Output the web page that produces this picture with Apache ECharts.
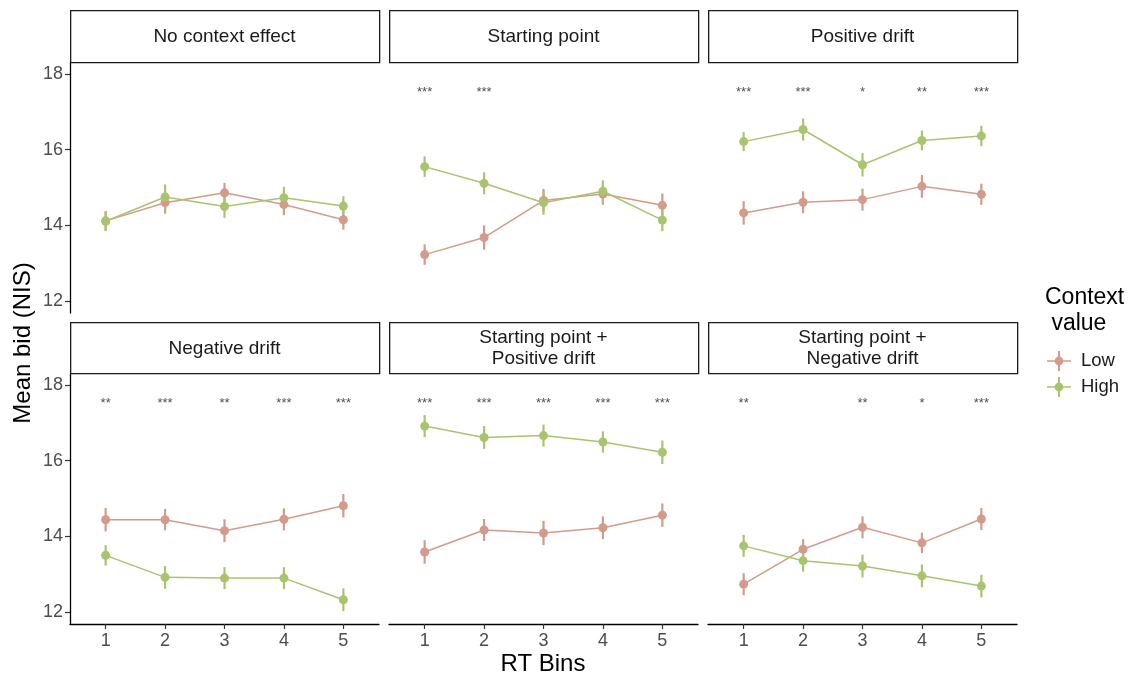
<!DOCTYPE html>
<html>
<head>
<meta charset="utf-8">
<script src="https://cdn.jsdelivr.net/npm/echarts@6/dist/echarts.min.js"></script>
<style>html,body{margin:0;padding:0;background:#fff}#c{width:1134px;height:676px}</style>
</head>
<body>
<div id="c"></div>
<script>
// ---------- DATA ----------
const bins = [1, 2, 3, 4, 5];
const xTicks = [1, 2, 3, 4, 5];
const yTicks = [12, 14, 16, 18];
const panelTitles = [
  'No context effect', 'Starting point', 'Positive drift',
  'Negative drift', 'Starting point +\nPositive drift', 'Starting point +\nNegative drift'
];
const seriesNames = ['Low', 'High'];

const lowMeans = [
  [14.12, 14.60, 14.86, 14.55, 14.15],
  [13.23, 13.68, 14.66, 14.83, 14.53],
  [14.33, 14.61, 14.68, 15.03, 14.82],
  [14.44, 14.44, 14.15, 14.45, 14.81],
  [13.59, 14.17, 14.09, 14.23, 14.56],
  [12.74, 13.66, 14.24, 13.83, 14.46]
];
const lowSE = [
  [0.26, 0.29, 0.26, 0.28, 0.26],
  [0.27, 0.32, 0.30, 0.28, 0.31],
  [0.31, 0.29, 0.29, 0.30, 0.28],
  [0.31, 0.28, 0.30, 0.29, 0.31],
  [0.31, 0.29, 0.32, 0.30, 0.31],
  [0.29, 0.27, 0.29, 0.27, 0.29]
];
const highMeans = [
  [14.11, 14.75, 14.50, 14.73, 14.51],
  [15.55, 15.11, 14.60, 14.90, 14.14],
  [16.21, 16.53, 15.60, 16.24, 16.36],
  [13.50, 12.92, 12.90, 12.90, 12.33],
  [16.91, 16.61, 16.66, 16.49, 16.22],
  [13.75, 13.36, 13.22, 12.96, 12.69]
];
const highSE = [
  [0.26, 0.33, 0.30, 0.29, 0.26],
  [0.27, 0.29, 0.32, 0.29, 0.29],
  [0.25, 0.29, 0.31, 0.26, 0.27],
  [0.27, 0.30, 0.29, 0.29, 0.30],
  [0.29, 0.30, 0.29, 0.28, 0.31],
  [0.29, 0.29, 0.30, 0.30, 0.30]
];
const stars = [
  ['', '', '', '', ''],
  ['***', '***', '', '', ''],
  ['***', '***', '*', '**', '***'],
  ['**', '***', '**', '***', '***'],
  ['***', '***', '***', '***', '***'],
  ['**', '', '**', '*', '***']
];
const starLevel = 17.5;

// ---------- STYLE / LAYOUT ----------
const FONT = '"Liberation Sans", Arial, Helvetica, sans-serif';
const colors = { Low: '#D29B8C', High: '#AAC36E' };
const colLeft = [70, 389, 708];
const colW = 309;
const rowTop = [62, 373];
const rowH = 251;
const stripTop = [10, 322];
const stripH = [52, 51];
const yMin = 11.69, yMax = 18.31;
const xMin = 0.4, xMax = 5.6;

const grids = [], xAxes = [], yAxes = [], series = [], graphics = [];

for (let p = 0; p < 6; p++) {
  const r = Math.floor(p / 3), c = p % 3;
  grids.push({ left: colLeft[c], top: rowTop[r], width: colW, height: rowH, outerBoundsMode: 'none', containLabel: false });
  const bottomRow = r === 1, leftCol = c === 0;
  xAxes.push({
    type: 'value', gridIndex: p, min: xMin, max: xMax,
    splitLine: { show: false },
    axisLine: { show: bottomRow, onZero: false, lineStyle: { color: '#000', width: 1.3 } },
    axisTick: { show: bottomRow, customValues: xTicks, length: 5, lineStyle: { color: '#333', width: 1.2 } },
    axisLabel: { show: bottomRow, customValues: xTicks, margin: 8, fontSize: 18, color: '#4D4D4D', fontFamily: FONT }
  });
  yAxes.push({
    type: 'value', gridIndex: p, min: yMin, max: yMax,
    splitLine: { show: false },
    axisLine: { show: leftCol, onZero: false, lineStyle: { color: '#000', width: 1.3 } },
    axisTick: { show: leftCol, customValues: yTicks, length: 5, lineStyle: { color: '#333', width: 1.2 } },
    axisLabel: { show: leftCol, customValues: yTicks, margin: 7, fontSize: 18, color: '#4D4D4D', fontFamily: FONT }
  });

  // strip
  graphics.push({
    type: 'rect', left: colLeft[c], top: stripTop[r],
    shape: { width: colW, height: stripH[r] },
    style: { fill: '#fff', stroke: '#1A1A1A', lineWidth: 1.3 }
  });
  graphics.push({
    type: 'text', x: colLeft[c] + colW / 2, y: stripTop[r] + stripH[r] / 2 + 1,
    style: { text: panelTitles[p], fontSize: 19, lineHeight: 21, fontFamily: FONT, fill: '#1A1A1A', align: 'center', verticalAlign: 'middle' }
  });

  const groups = [
    { name: 'Low', means: lowMeans[p], se: lowSE[p] },
    { name: 'High', means: highMeans[p], se: highSE[p] }
  ];
  groups.forEach(g => {
    const col = colors[g.name];
    series.push({
      type: 'custom', xAxisIndex: p, yAxisIndex: p, silent: true,
      data: bins.map((b, i) => [b, g.means[i] - g.se[i], g.means[i] + g.se[i]]),
      encode: { x: 0, y: [1, 2] },
      renderItem: (params, api) => {
        const a = api.coord([api.value(0), api.value(1)]);
        const b = api.coord([api.value(0), api.value(2)]);
        return { type: 'line', shape: { x1: a[0], y1: a[1], x2: b[0], y2: b[1] }, style: { stroke: col, lineWidth: 2.2 } };
      },
      z: 3
    });
    series.push({
      name: g.name, type: 'line', xAxisIndex: p, yAxisIndex: p,
      data: bins.map((b, i) => [b, g.means[i]]),
      symbol: 'circle', symbolSize: 9, showSymbol: true,
      lineStyle: { color: col, width: 1.5 },
      itemStyle: { color: col },
      z: 3, silent: true
    });
  });

  series.push({
    type: 'scatter', xAxisIndex: p, yAxisIndex: p, silent: true,
    symbolSize: 0,
    data: bins.map((b, i) => [b, starLevel, stars[p][i]]).filter(d => d[2] !== ''),
    label: { show: true, position: 'inside', formatter: q => q.data[2], fontSize: 13, fontFamily: FONT, color: '#222' },
    z: 4
  });
}

// axis titles + legend title
graphics.push({
  type: 'text', x: 23, y: 343, rotation: Math.PI / 2,
  style: { text: 'Mean bid (NIS)', fontSize: 24, fontFamily: FONT, fill: '#000', align: 'center', verticalAlign: 'middle' }
});
graphics.push({
  type: 'text', x: 543, y: 664,
  style: { text: 'RT Bins', fontSize: 24, fontFamily: FONT, fill: '#000', align: 'center', verticalAlign: 'middle' }
});
graphics.push({
  type: 'text', x: 1045, y: 285,
  style: { text: 'Context\n value', fontSize: 23, lineHeight: 26, fontFamily: FONT, fill: '#000', align: 'left', verticalAlign: 'top' }
});

const legendIcon = 'path://M0,9.2 L24,9.2 L24,10.8 L0,10.8 Z M11,0 L13,0 L13,20 L11,20 Z M7.6,10 A4.4,4.4 0 1 1 16.4,10 A4.4,4.4 0 1 1 7.6,10 Z';

const option = {
  animation: false,
  backgroundColor: '#fff',
  textStyle: { fontFamily: FONT },
  grid: grids,
  xAxis: xAxes,
  yAxis: yAxes,
  legend: {
    data: seriesNames, orient: 'vertical', left: 1047, top: 351,
    itemWidth: 24, itemHeight: 20, itemGap: 6, padding: 0,
    icon: legendIcon, selectedMode: false,
    textStyle: { fontSize: 18.5, color: '#1A1A1A', fontFamily: FONT, padding: [0, 0, 0, 5] }
  },
  graphic: graphics,
  series: series
};

const chart = echarts.init(document.getElementById('c'), null, { renderer: 'canvas' });
chart.setOption(option);
</script>
</body>
</html>
